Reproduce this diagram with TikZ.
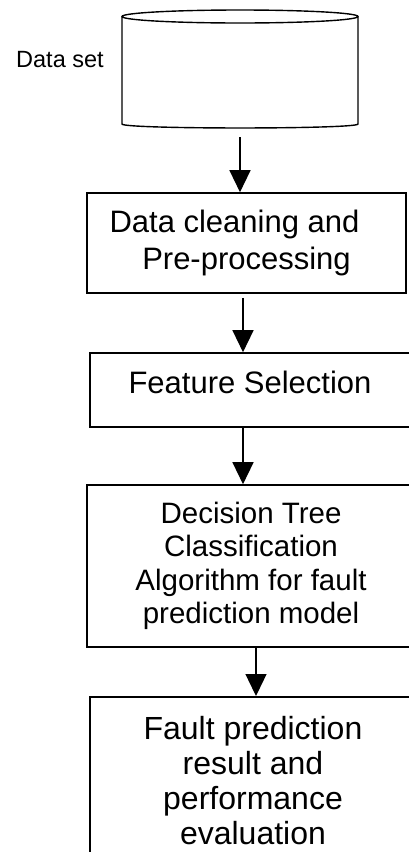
\documentclass[tikz,border=0pt]{standalone}
\usepackage{fontspec}
\setmainfont{Liberation Sans}
\usetikzlibrary{arrows.meta,positioning,calc}

\begin{document}
\begin{tikzpicture}[x=1pt,y=-1pt,>={Triangle[width=21pt,length=22pt]}]
  \tikzset{stagebox/.style={draw,line width=1.6pt,inner sep=0pt,align=center},
    flow/.style={->,line width=1.3pt}}
  \useasboundingbox (0,0) rectangle (408,852);
  % data set drum
  \node[minimum width=236pt,minimum height=118pt,inner sep=0pt] (ds) at (240,69) {};
  \draw[line width=1.4pt] (122,16.5) -- (122,124) .. controls (122,129.3) and (358,129.3) .. (358,124) -- (358,16.5);
  \draw[line width=1.4pt] (240,16.5) ellipse [x radius=118pt,y radius=6.5pt];
  \node[anchor=base west,inner xsep=0pt,font=\fontsize{23.5pt}{28pt}\selectfont] (dslabel) at (16,67) {Data set};
  % steps
  \node[stagebox,minimum width=319pt,minimum height=100pt,font=\fontsize{31pt}{37pt}\selectfont] (clean) at (246.5,243) {Data cleaning and\rule{24pt}{0pt}\\Pre-processing};
  \node[stagebox,minimum width=320pt,minimum height=74pt,text height=22pt,text depth=16pt,font=\fontsize{31pt}{37pt}\selectfont] (feat) at (250,390) {Feature Selection};
  \node[stagebox,minimum width=328pt,minimum height=162pt,font=\fontsize{29.5pt}{33.5pt}\selectfont] (algo) at (251,566) {Decision Tree\\Classification\\Algorithm for fault\\prediction model};
  \node[stagebox,anchor=north,minimum width=326pt,inner ysep=20pt,font=\fontsize{32pt}{35pt}\selectfont] (result) at (253,696) {Fault prediction\\result and\\performance\\evaluation};
  \draw[flow] ([yshift=-9pt]ds.south) -- (ds.south |- clean.north);
  \draw[flow] ([xshift=-3.5pt,yshift=-4pt]clean.south) -- ([xshift=-3.5pt]clean.south |- feat.north);
  \draw[flow] ([xshift=-7pt]feat.south) -- ([xshift=-7pt]feat.south |- algo.north);
  \draw[flow] ([xshift=5pt]algo.south) -- ([xshift=5pt]algo.south |- result.north);
\end{tikzpicture}
\end{document}
